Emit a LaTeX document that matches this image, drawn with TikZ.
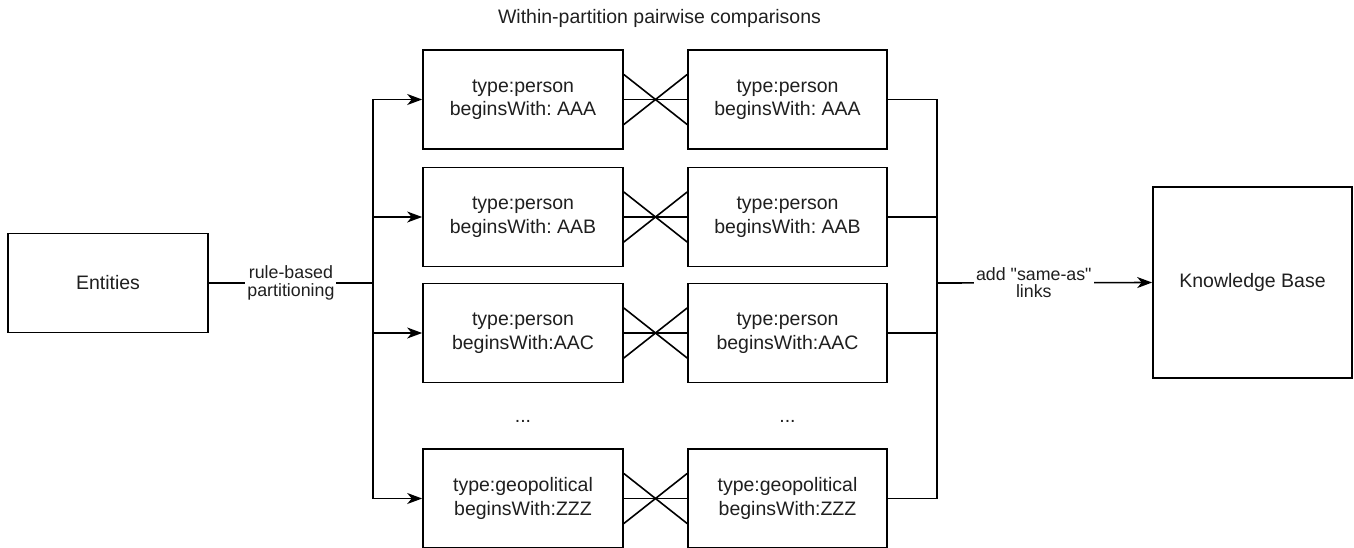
\documentclass[tikz,border=0pt]{standalone}
\usepackage{fontspec}
\setmainfont{Liberation Sans}[Ligatures=TeXOff]
\usetikzlibrary{arrows.meta}
\frenchspacing
\tikzset{
  box/.style={draw=black, line width=1.7pt, fill=white, minimum width=200pt, minimum height=99pt, inner sep=0pt, align=center, font=\fontsize{19.5}{23.5}\selectfont\frenchspacing, text=black!88},
  conn/.style={draw=black, line width=1.6pt},
  arr/.style={conn, -{Stealth[length=15pt,width=11pt,inset=4.5pt]}},
  lbl/.style={fill=white, inner sep=2pt, align=center, font=\fontsize{17.8}{17.5}\selectfont\frenchspacing, text=black!88},
  plain/.style={font=\fontsize{19.5}{23.5}\selectfont\frenchspacing, text=black!88, inner sep=0pt}
}
\begin{document}
\begin{tikzpicture}[x=1pt,y=-1pt]
\useasboundingbox (0,0) rectangle (1354,547);
% title
\node[plain] (title) at (659.5,18) {Within-partition pairwise comparisons};
% boxes
\node[box] (e) at (108,283) {Entities};
\node[box] (l1) at (523,99.5) {type:person\\beginsWith: AAA};
\node[box] (l2) at (523,217) {type:person\\beginsWith: AAB};
\node[box] (l3) at (523,333) {type:person\\beginsWith:AAC};
\node[box] (l4) at (523,498.5) {type:geopolitical\\beginsWith:ZZZ};
\node[box, minimum width=199pt] (r1) at (787.5,99.5) {type:person\\beginsWith: AAA};
\node[box, minimum width=199pt] (r2) at (787.5,217) {type:person\\beginsWith: AAB};
\node[box, minimum width=199pt] (r3) at (787.5,333) {type:person\\beginsWith:AAC};
\node[box, minimum width=199pt] (r4) at (787.5,498.5) {type:geopolitical\\beginsWith:ZZZ};
\node[box, minimum width=199pt, minimum height=191pt] (kb) at (1252.5,282.5) {Knowledge Base};
% dots
\node[plain] (d1) at (523,421) {...};
\node[plain] (d2) at (787.5,421) {...};
% split points
\coordinate (sp) at (373,283);
\coordinate (sq) at (937,283);
% partitioning connectors
\draw[conn] (e.east) -- node[lbl] (lab1) {rule-based\\partitioning} (sp);
\foreach \i in {1,2,3,4} {
  \draw[arr] (sp) |- (l\i.west);
}
% pairwise comparisons
\foreach \i in {1,2,3,4} {
  \draw[conn] (l\i.east) -- (r\i.west);
  \draw[conn] ([yshift=25pt]l\i.east) -- ([yshift=-25pt]r\i.west);
  \draw[conn] ([yshift=-25pt]l\i.east) -- ([yshift=25pt]r\i.west);
  \draw[conn] (r\i.east) -| (sq);
}
\draw[arr] (sq) -- node[lbl, pos=0.45] (lab2) {add "same-as"\\links} (kb.west);
\end{tikzpicture}
\end{document}
